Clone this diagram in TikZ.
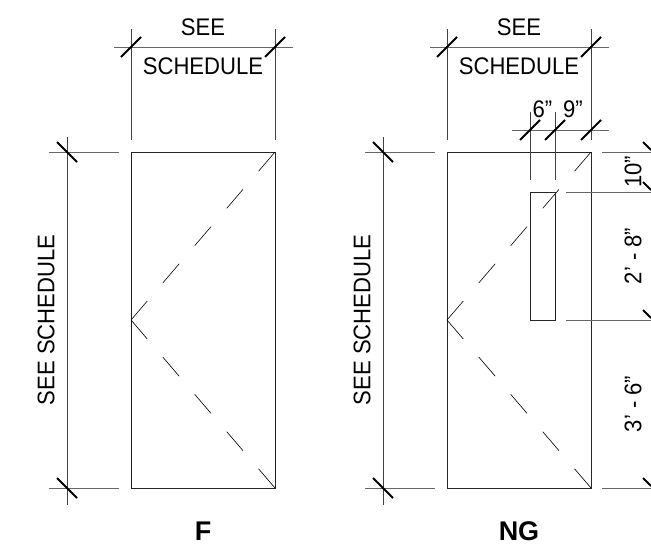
\documentclass[tikz,border=0pt]{standalone}
\usepackage{fontspec}
\setmainfont{Liberation Sans}
\usetikzlibrary{arrows.meta}
\newcommand{\dimstr}[1]{\scalebox{0.92}[1]{#1}}

\begin{document}
\begin{tikzpicture}[x=1pt, y=-1pt,
        dimline/.style={line width=0.9pt, black!60},
        extline/.style={line width=0.9pt, black!75},
        doorline/.style={line width=1pt, black!85},
        swing/.style={line width=0.6pt, black, dash pattern=on 25pt off 24pt},
        tick/.style={line width=2pt, black},
        dimtext/.style={font=\fontsize{24}{26}\selectfont, inner sep=0pt},
        marktext/.style={font=\fontsize{27}{29}\selectfont\bfseries, inner sep=0pt}]
        \useasboundingbox (0,0) rectangle (651,557);

        \def\doorW{144}
        \def\doorTop{152}
        \def\doorBot{488}
        \def\doorMid{320}

        \foreach \dx/\name/\mark in {131/F/F, 447/NG/NG} {
            \draw[doorline] (\dx,\doorTop) rectangle (\dx+\doorW,\doorBot);
            \draw[swing] (\dx,\doorMid) -- (\dx+\doorW,\doorTop);
            \draw[swing] (\dx,\doorMid) -- (\dx+\doorW,\doorBot);

            % width dimension
            \draw[extline] (\dx,29) -- (\dx,140);
            \draw[extline] (\dx+\doorW,29) -- (\dx+\doorW,140);
            \draw[dimline] (\dx-17,47) -- (\dx+\doorW+18,47);
            \draw[tick] (\dx-10,57) -- (\dx+10,37);
            \draw[tick] (\dx+\doorW-10,57) -- (\dx+\doorW+10,37);
            \node[dimtext] (see\name) at (\dx+72,27) {\dimstr{SEE}};
            \node[dimtext] (sched\name) at (\dx+72,66) {\dimstr{SCHEDULE}};

            % height dimension
            \draw[extline] (\dx-64,137) -- (\dx-64,505);
            \draw[dimline] (\dx-82,\doorTop) -- (\dx-12,\doorTop);
            \draw[dimline] (\dx-82,\doorBot) -- (\dx-12,\doorBot);
            \draw[tick] (\dx-74,142) -- (\dx-54,162);
            \draw[tick] (\dx-74,478) -- (\dx-54,498);
            \node[dimtext, rotate=90] (height\name) at (\dx-85,\doorMid) {\dimstr{SEE SCHEDULE}};

            \node[marktext] (mark\name) at (\dx+72,531) {\mark};
        }

        % glazing opening
        \draw[doorline] (530,192) rectangle (555,320);
        \draw[extline] (530,112) -- (530,180);
        \draw[extline] (555,112) -- (555,180);
        \draw[dimline] (512,130) -- (609,130);
        \draw[tick] (520,140) -- (540,120);
        \draw[tick] (545,140) -- (565,120);
        \draw[tick] (581,140) -- (601,120);
        \node[dimtext] (lite) at (542.5,109) {\dimstr{6"}};
        \node[dimtext] (rail) at (573,109) {\dimstr{9"}};

        % right hand chain
        \draw[dimline] (602,\doorTop) -- (651,\doorTop);
        \draw[dimline] (566,192) -- (651,192);
        \draw[dimline] (566,320) -- (651,320);
        \draw[dimline] (602,\doorBot) -- (651,\doorBot);
        \foreach \yy in {152,192,320,488} {
            \draw[tick] (643,\yy-10) -- (651,\yy-2);
        }
        \node[dimtext, rotate=90] (topgap) at (633,172) {\dimstr{10"}};
        \node[dimtext, rotate=90] (liteH) at (633,256) {\dimstr{2' - 8"}};
        \node[dimtext, rotate=90] (botgap) at (633,404) {\dimstr{3' - 6"}};

    \end{tikzpicture}
\end{document}
